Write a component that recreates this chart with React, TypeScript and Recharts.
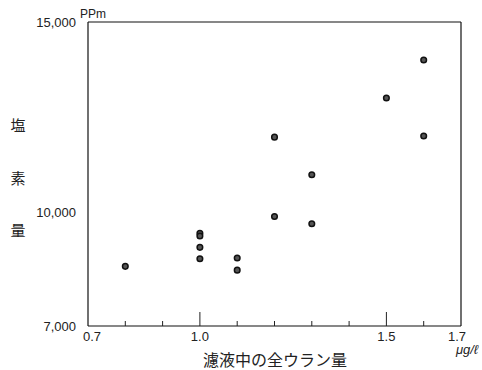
import {
  ScatterChart,
  Scatter,
  XAxis,
  YAxis,
  ReferenceLine,
} from "recharts";

// uranium in filtrate (ug/l) vs chlorine (ppm)
const uranium = [0.8, 1.0, 1.0, 1.0, 1.0, 1.1, 1.1, 1.2, 1.2, 1.3, 1.3, 1.5, 1.6, 1.6];
const chlorine = [8570, 9440, 9370, 9070, 8770, 8790, 8470, 11970, 9880, 10980, 9690, 13000, 14000, 12000];

const xTicks = [0.7, 0.8, 0.9, 1.0, 1.1, 1.2, 1.3, 1.4, 1.5, 1.6, 1.7];
const xLabelled = [0.7, 1.0, 1.5, 1.7];
const xMajor = [1.0, 1.5];
const yTicks = [7000, 10000, 15000];
const yTitle = ["塩", "素", "量"];
const xTitle = "濾液中の全ウラン量";

const data = uranium.map((u, i) => ({ x: u, y: chlorine[i] }));

const latin = "'Liberation Sans', Arial, sans-serif";
const cjk = "'Noto Sans CJK JP', sans-serif";

const XTick = (props: any) => {
  const { x, y, payload } = props;
  const v = Math.round(payload.value * 10) / 10;
  const edge = v === 0.7 || v === 1.7;
  const len = xMajor.includes(v) ? 14 : 5;
  let dx = 0;
  if (v === 0.7) dx = 4;
  if (v === 1.7) dx = -4;
  return (
    <g>
      {!edge && <line x1={x} y1={y} x2={x} y2={y - len} stroke="#222" strokeWidth={1} />}
      {xLabelled.includes(v) && (
        <text x={x + dx} y={y + 15} textAnchor="middle" fontSize={13} fontFamily={latin} fill="#222">
          {v.toFixed(1)}
        </text>
      )}
    </g>
  );
};

const Dot = (props: any) => {
  const { cx, cy } = props;
  return <circle cx={cx} cy={cy} r={2.8} fill="#555" stroke="#111" strokeWidth={1.5} />;
};

export default function App() {
  return (
    <div style={{ position: "absolute", left: 0, top: 0, background: "#fff" }}>
      <ScatterChart
        width={482}
        height={370}
        margin={{ top: 22, right: 21, bottom: 14, left: 28 }}
      >
        <XAxis
          type="number"
          dataKey="x"
          domain={[0.7, 1.7]}
          ticks={xTicks}
          interval={0}
          allowDataOverflow
          tickLine={false}
          tickSize={0}
          tickMargin={0}
          height={30}
          axisLine={{ stroke: "#111", strokeWidth: 1.2 }}
          tick={<XTick />}
          label={{
            content: () => (
              <g>
                <text x={467} y={354} textAnchor="middle" fontSize={13} fontStyle="italic" fontFamily={latin} fill="#222">
                  μg/ℓ
                </text>
                <text x={275} y={366} textAnchor="middle" fontSize={16} fontFamily={cjk} fill="#222">
                  {xTitle}
                </text>
              </g>
            ),
          }}
        />
        <YAxis
          type="number"
          dataKey="y"
          domain={[7000, 15000]}
          ticks={yTicks}
          interval={0}
          allowDataOverflow
          width={60}
          tickLine={false}
          tickMargin={6}
          axisLine={{ stroke: "#111", strokeWidth: 1.2 }}
          tickFormatter={(v: number) => v.toLocaleString("en-US")}
          tick={{ fontSize: 13, fontFamily: latin, fill: "#222" }}
          label={{
            content: () => (
              <g>
                <text x={80} y={18} fontSize={12} fontFamily={latin} fill="#222">
                  PPm
                </text>
                {yTitle.map((c, i) => (
                  <text key={c} x={18} y={131 + i * 52.5} textAnchor="middle" fontSize={15} fontFamily={cjk} fill="#222">
                    {c}
                  </text>
                ))}
              </g>
            ),
          }}
        />
        <ReferenceLine y={15000} stroke="#111" strokeWidth={1.2} />
        <ReferenceLine x={1.7} stroke="#111" strokeWidth={1.2} />
        <Scatter data={data} shape={<Dot />} isAnimationActive={false} />
      </ScatterChart>
    </div>
  );
}
